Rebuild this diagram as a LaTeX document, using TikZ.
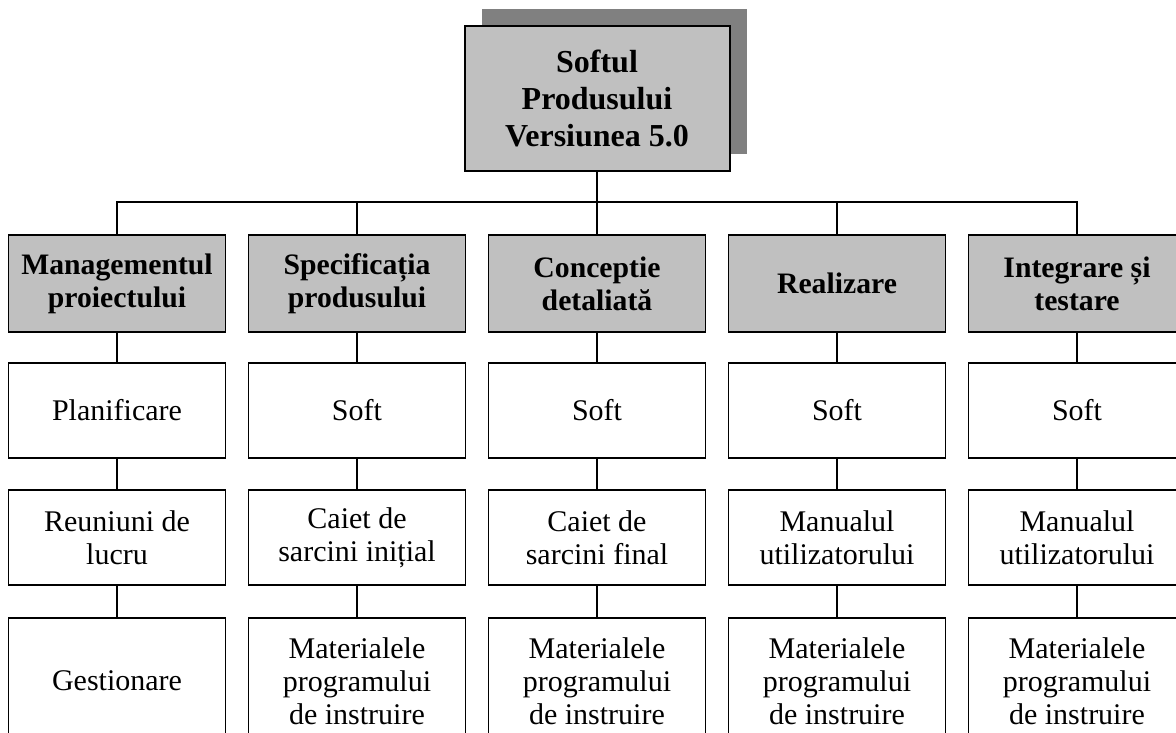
\documentclass[tikz,border=0pt]{standalone}
\usepackage{fontspec}
\setmainfont{Liberation Serif}
\usetikzlibrary{shadows}

\definecolor{boxgray}{HTML}{C0C0C0}
\definecolor{shadowgray}{HTML}{808080}

\tikzset{
  wbs/.style={draw, line width=1.5pt, align=center, minimum width=217pt,
    inner sep=0pt, font=\fontsize{30}{33}\selectfont},
  phase/.style={wbs, fill=boxgray, minimum height=97pt,
    font=\fontsize{29.7}{33}\selectfont\bfseries},
  task/.style={wbs, fill=white, minimum height=95pt},
  link/.style={line width=1.3pt}
}

\begin{document}
\begin{tikzpicture}[x=1pt, y=-1pt]
      \useasboundingbox (0,0) rectangle (1176,733);
      \clip (0,0) rectangle (1176,733);
      % root of the tree
      \node[draw, line width=2pt, fill=boxgray, minimum width=265pt,
        minimum height=145pt, inner sep=0pt, align=center,
        font=\fontsize{32}{37}\selectfont\bfseries,
        drop shadow={shadow xshift=17pt, shadow yshift=17pt,
          fill=shadowgray, opacity=1}]
        (root) at (597,98.5) {Softul\\Produsului\\Versiunea 5.0};
      \coordinate (bus) at (597,202);
      % one column per phase
      \foreach \i/\x/\ph/\ta/\tb in {
          1/117/{Managementul\\proiectului}/Planificare/{Reuniuni de\\lucru},
          2/357/{Specificația\\produsului}/Soft/{Caiet de\\sarcini inițial},
          3/597/{Conceptie\\detaliată}/Soft/{Caiet de\\sarcini final},
          4/837/{Realizare}/Soft/{Manualul\\utilizatorului},
          5/1077/{Integrare și\\testare}/Soft/{Manualul\\utilizatorului}} {
        \node[phase] (p\i) at (\x,283.5) {\ph};
        \node[task] (a\i) at (\x,410.5) {\ta};
        \node[task] (b\i) at (\x,537.5) {\tb};
      }
      % last row
      \node[task, minimum height=126pt] (c1) at (117,681) {Gestionare};
      \foreach \i/\x in {2/357,3/597,4/837,5/1077} {
        \node[task, minimum height=126pt] (c\i) at (\x,681)
          {Materialele\\programului\\de instruire};
      }
      % connectors
      \draw[link] (root.south) -- (bus);
      \foreach \i in {1,...,5} {
        \draw[link] (p\i.north) -- (p\i.north |- bus) -- (bus);
        \draw[link] (p\i) -- (a\i);
        \draw[link] (a\i) -- (b\i);
        \draw[link] (b\i) -- (c\i);
      }
    \end{tikzpicture}
\end{document}
